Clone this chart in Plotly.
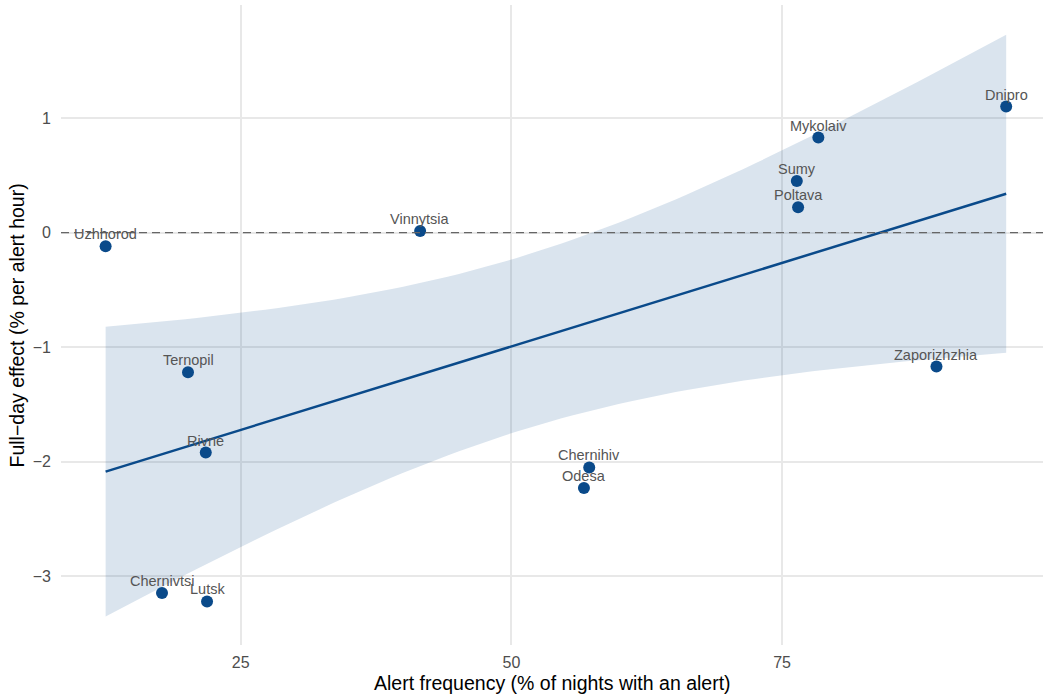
import numpy as np
import plotly.graph_objects as go

cities = ["Uzhhorod", "Vinnytsia", "Ternopil", "Rivne", "Chernivtsi", "Lutsk",
          "Chernihiv", "Odesa", "Mykolaiv", "Sumy", "Poltava", "Zaporizhzhia", "Dnipro"]
alert_freq = [12.52, 41.57, 20.13, 21.77, 17.73, 21.89,
              57.19, 56.70, 78.35, 76.36, 76.48, 89.26, 95.70]
effect = [-0.12, 0.014, -1.219, -1.92, -3.147, -3.22,
          -2.05, -2.23, 0.829, 0.45, 0.22, -1.17, 1.10]

x = np.array(alert_freq)
y = np.array(effect)
n = len(x)
xm = x.mean()
sxx = ((x - xm) ** 2).sum()
b1 = ((x - xm) * (y - y.mean())).sum() / sxx
b0 = y.mean() - b1 * xm
resid = y - (b0 + b1 * x)
s = np.sqrt((resid ** 2).sum() / (n - 2))
t_crit = 2.201  # t(0.975, df=11)
xs = np.linspace(x.min(), x.max(), 80)
fit = b0 + b1 * xs
se = s * np.sqrt(1 / n + (xs - xm) ** 2 / sxx)
upper = fit + t_crit * se
lower = fit - t_crit * se

font = "Liberation Sans, Arial, sans-serif"
blue = "#0a4a8a"
fig = go.Figure()
fig.add_trace(go.Scatter(x=np.concatenate([xs, xs[::-1]]),
                         y=np.concatenate([upper, lower[::-1]]),
                         fill="toself", fillcolor="rgba(10,74,138,0.15)",
                         line=dict(width=0), hoverinfo="skip", showlegend=False))
fig.add_hline(y=0, line=dict(color="#666666", width=1.3, dash="8px,5px"))
fig.add_trace(go.Scatter(x=xs, y=fit, mode="lines",
                         line=dict(color=blue, width=2.5), showlegend=False))
fig.add_trace(go.Scatter(x=alert_freq, y=effect, mode="markers",
                         marker=dict(color=blue, size=12), showlegend=False))

for c, xv, yv in zip(cities, alert_freq, effect):
    fig.add_annotation(x=xv, y=yv, text=c, showarrow=False, yshift=12,
                       font=dict(size=14.5, color="#555555", family=font))

fig.add_annotation(xref="paper", yref="paper", x=0.5, y=-0.0594,
                   text="Alert frequency (% of nights with an alert)",
                   showarrow=False, yanchor="middle", xanchor="center",
                   font=dict(size=19.5, color="black", family=font))
fig.add_annotation(xref="paper", yref="paper", x=-0.0443, y=0.5,
                   text="Full\u2212day effect (% per alert hour)", textangle=-90,
                   showarrow=False, yanchor="middle", xanchor="center",
                   font=dict(size=19.5, color="black", family=font))

fig.update_layout(
    width=1043, height=696,
    margin=dict(l=61, r=0, t=5, b=51),
    plot_bgcolor="white", paper_bgcolor="white",
    font=dict(family=font),
    xaxis=dict(range=[8.4, 99.1], tickvals=[25, 50, 75], automargin=False,
               showgrid=True, gridcolor="#e8e8e8", gridwidth=1.5,
               zeroline=False, showline=False, ticks="", ticklabelstandoff=6,
               tickfont=dict(size=16, color="#4d4d4d")),
    yaxis=dict(range=[-3.60, 1.986], tickvals=[-3, -2, -1, 0, 1], automargin=False,
               showgrid=True, gridcolor="#e8e8e8", gridwidth=1.5,
               zeroline=False, showline=False, ticks="", ticklabelstandoff=9,
               tickfont=dict(size=16, color="#4d4d4d")),
)
fig.write_html("out.html", config={"displayModeBar": False},
               post_script="document.body.style.margin='0px';document.body.style.overflow='hidden';")
